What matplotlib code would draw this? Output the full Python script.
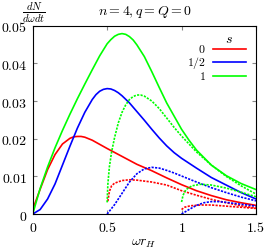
import numpy as np
import matplotlib
matplotlib.use("Agg")
import matplotlib.pyplot as plt

plt.rcParams['mathtext.fontset'] = 'cm'
plt.rcParams['font.family'] = 'serif'
plt.rcParams['font.serif'] = ['DejaVu Serif']

# s = 0 (red), s = 1/2 (blue), s = 1 (green); first mode solid, higher modes dotted
x_red1 = [0, 0.05, 0.1, 0.15, 0.2, 0.25, 0.275, 0.3, 0.325, 0.35, 0.4, 0.45, 0.5, 0.6, 0.7, 0.8, 0.9,
          1.0, 1.1, 1.2, 1.3, 1.4, 1.5]
y_red1 = [0.0012, 0.0066, 0.0118, 0.0158, 0.0186, 0.0201, 0.0205, 0.0206, 0.0206, 0.0204, 0.0196,
          0.0185, 0.0174, 0.0153, 0.0132, 0.0115, 0.0096, 0.0078, 0.0062, 0.0049, 0.0038, 0.0030, 0.0023]

x_blue1 = [0, 0.05, 0.1, 0.15, 0.2, 0.25, 0.3, 0.35, 0.4, 0.425, 0.45, 0.475, 0.5, 0.525, 0.55, 0.575,
           0.6, 0.65, 0.7, 0.75, 0.8, 0.85, 0.9, 0.95, 1.0, 1.1, 1.2, 1.3, 1.4, 1.5]
y_blue1 = [0, 0.0012, 0.0040, 0.0080, 0.0130, 0.0180, 0.0228, 0.0270, 0.0304, 0.0317, 0.0326, 0.0331,
           0.0333, 0.0332, 0.0328, 0.0322, 0.0314, 0.0295, 0.0272, 0.0249, 0.0225, 0.0202, 0.0181,
           0.0163, 0.0148, 0.0122, 0.0097, 0.0077, 0.0057, 0.0040]

x_green1 = [0, 0.05, 0.1, 0.15, 0.2, 0.25, 0.3, 0.35, 0.4, 0.45, 0.5, 0.525, 0.55, 0.575, 0.6, 0.625,
            0.65, 0.675, 0.7, 0.75, 0.8, 0.85, 0.9, 0.95, 1.0, 1.05, 1.1, 1.2, 1.3, 1.4, 1.5]
y_green1 = [0, 0.0068, 0.0125, 0.0176, 0.0222, 0.0265, 0.0306, 0.0345, 0.0383, 0.0420, 0.0452, 0.0463,
            0.0472, 0.0477, 0.0479, 0.0477, 0.0471, 0.0462, 0.0449, 0.0418, 0.0378, 0.0336, 0.0295,
            0.0260, 0.0225, 0.0196, 0.0170, 0.0130, 0.0102, 0.0081, 0.0065]

x_red2 = [0.505, 0.515, 0.53, 0.55, 0.6, 0.65, 0.7, 0.8, 0.9, 1.0, 1.1, 1.2, 1.3, 1.4, 1.5]
y_red2 = [0.0034, 0.0060, 0.0075, 0.0082, 0.0089, 0.0091, 0.0090, 0.0085, 0.0077, 0.0062, 0.0050,
          0.0039, 0.0030, 0.0022, 0.0016]

x_blue2 = [0.5, 0.55, 0.6, 0.65, 0.7, 0.75, 0.8, 0.85, 0.9, 0.95, 1.0, 1.1, 1.2, 1.3, 1.4, 1.5]
y_blue2 = [0, 0.0025, 0.0055, 0.0085, 0.0107, 0.0120, 0.0124, 0.0122, 0.0116, 0.0109, 0.0101, 0.0085,
           0.0070, 0.0057, 0.0045, 0.0035]

x_green2 = [0.5, 0.505, 0.515, 0.53, 0.55, 0.575, 0.6, 0.625, 0.65, 0.675, 0.7, 0.725, 0.75, 0.8, 0.85,
            0.9, 0.95, 1.0, 1.1, 1.2, 1.3, 1.4, 1.5]
y_green2 = [0.0031, 0.0080, 0.0125, 0.0165, 0.0203, 0.0242, 0.0270, 0.0290, 0.0304, 0.0312, 0.0316,
            0.0316, 0.0313, 0.0300, 0.0280, 0.0255, 0.0230, 0.0207, 0.0165, 0.0130, 0.0100, 0.0075, 0.0053]

x_red3 = [1.0, 1.02, 1.06, 1.13, 1.2, 1.3, 1.4, 1.5]
y_red3 = [0.0012, 0.0018, 0.0022, 0.0024, 0.0024, 0.0021, 0.0018, 0.0015]

x_blue3 = [1.0, 1.05, 1.1, 1.15, 1.2, 1.25, 1.3, 1.4, 1.5]
y_blue3 = [0, 0.0012, 0.0023, 0.0030, 0.0033, 0.0033, 0.0031, 0.0026, 0.0021]

x_green3 = [1.0, 1.01, 1.03, 1.07, 1.13, 1.2, 1.3, 1.4, 1.5]
y_green3 = [0.0032, 0.0050, 0.0065, 0.0075, 0.0079, 0.0077, 0.0069, 0.0058, 0.0046]

spin_labels = ['0', '1/2', '1']
colors = ['#ff0000', '#0000ff', '#00ff00']

fig = plt.figure(figsize=(2.69, 2.53), dpi=100)
ax = fig.add_axes([0.1216, 0.150, 0.83, 0.7445])

lw = 1.2
dots = (0, (1.3, 0.8))
for xs, ys, c in [(x_red1, y_red1, colors[0]), (x_blue1, y_blue1, colors[1]), (x_green1, y_green1, colors[2])]:
    ax.plot(xs, ys, color=c, lw=lw)
for xs, ys, c in [(x_red2, y_red2, colors[0]), (x_blue2, y_blue2, colors[1]), (x_green2, y_green2, colors[2]),
                  (x_red3, y_red3, colors[0]), (x_blue3, y_blue3, colors[1]), (x_green3, y_green3, colors[2])]:
    ax.plot(xs, ys, color=c, lw=lw, linestyle=dots)

ax.set_xlim(0, 1.5)
ax.set_ylim(0, 0.05)
ax.set_xticks([0, 0.5, 1, 1.5])
ax.set_xticklabels(['$0$', '$0.5$', '$1$', '$1.5$'])
ax.set_yticks([0, 0.01, 0.02, 0.03, 0.04, 0.05])
ax.set_yticklabels(['$0$', '$0.01$', '$0.02$', '$0.03$', '$0.04$', '$0.05$'])
ax.tick_params(direction='in', top=True, right=True, length=3, width=0.8, color='#888888',
               labelsize=10, pad=4)
for sp in ax.spines.values():
    sp.set_linewidth(0.8)

# legend, gnuplot style (label left, sample right)
ax.text(0.88, 0.935, '$s$', transform=ax.transAxes, ha='center', va='center', fontsize=10)
leg_y = [0.877, 0.806, 0.735]
for lab, c, yy in zip(spin_labels, colors, leg_y):
    ax.text(0.775, yy, '$' + lab + '$', transform=ax.transAxes, ha='right', va='center', fontsize=8.5)
    ax.plot([0.808, 0.957], [yy, yy], color=c, lw=lw, transform=ax.transAxes)

fig.text(0.54, 0.952, '$n=4, q=Q=0$', ha='center', va='center', fontsize=10)
fig.text(0.125, 0.950, r'$\frac{dN}{d\omega dt}$', ha='center', va='center', fontsize=11)
fig.text(0.536, 0.04, r'$\omega r_H$', ha='center', va='center', fontsize=10)

fig.savefig('out.png', dpi=100)
